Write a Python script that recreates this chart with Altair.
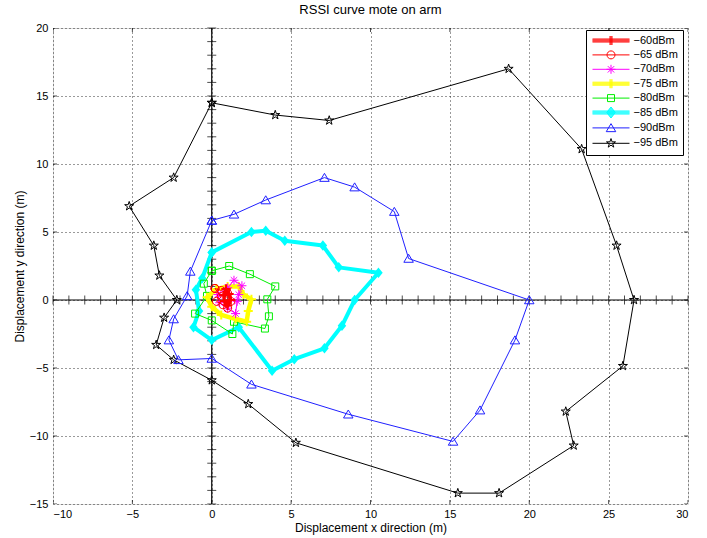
import altair as alt
import pandas as pd

# ---------------- data ----------------
labels = ["\u221260dBm", "\u221265 dBm", "\u221270dBm", "\u221275 dBm",
          "\u221280dBm", "\u221285 dBm", "\u221290dBm", "\u221295 dBm"]

x_60 = [0.9, 1.1, 1.2, 1.0, 0.8, 0.75, 0.9]
y_60 = [0.8, 0.45, 0.0, -0.4, -0.1, 0.35, 0.8]

x_65 = [0.2, 0.6, 0.3, 0.7, 1.0, 1.2, 1.0, 0.6, 0.2]
y_65 = [0.85, 0.25, -0.1, -0.35, -0.6, -0.1, 0.5, 0.7, 0.85]

x_70 = [0.4, 1.0, 1.4, 1.9, 1.7, 1.6, 1.5, 1.0, 0.5, 0.4]
y_70 = [0.4, 0.9, 1.45, 1.05, 0.4, -0.1, -1.0, -0.6, -0.2, 0.4]

x_75 = [0.3, 1.0, 1.7, 2.0, 2.5, 2.3, 2.2, 1.5, 0.6, 0.0, -0.3, 0.3]
y_75 = [0.8, 1.0, 1.0, 0.4, 0.05, -0.8, -1.6, -1.4, -1.1, -0.5, 0.2, 0.8]

x_80 = [0.0, 1.1, 2.4, 4.0, 3.5, 3.6, 3.35, 1.4, 1.3, 0.0, -1.05, -0.3, -0.5, 0.0]
y_80 = [2.15, 2.5, 1.9, 1.0, 0.05, -1.2, -2.1, -1.6, -2.5, -1.5, -1.0, 0.3, 1.2, 2.15]

x_85 = [0.0, 2.5, 3.4, 4.6, 7.0, 8.0, 10.5, 9.0, 8.2, 7.1, 5.2, 3.8, 1.7, 0.0, -1.15, -0.8, -1.0, -0.6, 0.0]
y_85 = [3.5, 5.0, 5.1, 4.35, 4.0, 2.4, 2.0, 0.0, -1.9, -3.55, -4.35, -5.2, -2.0, -2.95, -2.0, -0.8, 0.75, 1.6, 3.5]

x_90 = [0.0, 1.4, 3.4, 7.1, 9.0, 11.5, 12.4, 20.0, 19.1, 16.9, 15.2, 8.6, 2.5, 0.0, -2.1, -2.7, -2.4, -1.55, -1.35, 0.0]
y_90 = [5.85, 6.3, 7.35, 9.0, 8.3, 6.5, 3.05, 0.0, -2.95, -8.1, -10.4, -8.4, -6.2, -4.3, -4.4, -2.95, -1.4, 0.3, 2.1, 5.85]

x_95 = [0.0, 4.0, 7.4, 18.7, 23.3, 25.5, 26.6, 25.9, 22.3, 22.8, 18.1, 15.5, 5.3, 2.3, 0.0, -2.4, -3.5, -3.0, -2.2, -3.3, -3.65, -5.2, -2.4, 0.0]
y_95 = [14.5, 13.6, 13.2, 17.0, 11.1, 4.0, 0.0, -4.85, -8.2, -10.7, -14.2, -14.2, -10.5, -7.65, -5.9, -4.4, -3.3, -1.3, 0.0, 1.8, 4.0, 6.9, 9.0, 14.5]

series_x = [x_60, x_65, x_70, x_75, x_80, x_85, x_90, x_95]
series_y = [y_60, y_65, y_70, y_75, y_80, y_85, y_90, y_95]

x_ticks = [-10, -5, 0, 5, 10, 15, 20, 25, 30]
y_ticks = [-15, -10, -5, 0, 5, 10, 15, 20]
x_minor = list(range(-10, 31))
y_minor = list(range(-15, 21))
origin = [0]

# ---------------- styles ----------------
colors = ["#ff0000", "#ff0000", "#ff00ff", "#ffff00", "#00ee00", "#00ffff", "#2020ff", "#000000"]
line_widths = [3, 1, 1, 4.5, 1, 4, 1, 1]
marker_widths = [2, 1, 1, 2, 1, 1, 1, 1]
FONT = "Liberation Sans"

PLUS = "M-0.9,0L0.9,0M0,-0.9L0,0.9"
CIRC = "M0.8,0A0.8,0.8 0 1,1 -0.8,0A0.8,0.8 0 1,1 0.8,0Z"
AST = "M-0.9,0L0.9,0M0,-0.9L0,0.9M-0.64,-0.64L0.64,0.64M-0.64,0.64L0.64,-0.64"
SQR = "M-0.7,-0.7L0.7,-0.7L0.7,0.7L-0.7,0.7Z"
DIA = "M0,-1.05L0.85,0L0,1.05L-0.85,0Z"
TRI = "M0,-0.85L0.95,0.75L-0.95,0.75Z"
STAR = ("M0,-0.95L0.2134,-0.2937L0.9035,-0.2936L0.3452,0.1122L0.5584,0.7686"
        "L0,0.363L-0.5584,0.7686L-0.3452,0.1122L-0.9035,-0.2936L-0.2134,-0.2937Z")
markers = [PLUS, CIRC, AST, PLUS, SQR, DIA, TRI, STAR]

# legend symbols (1 unit = 5 px): a thin line + marker, thick parts built from parallel strokes
LINE = "M-3.7,0L3.7,0"
THICK = "".join(f"M-3.7,{v}L3.7,{v}" for v in ["-0.3", "-0.1", "0.1", "0.3"])
THICK_PLUS = "".join(f"M{v},-0.9L{v},0.9" for v in ["-0.2", "0", "0.2"])
DIA_FILL = "M0,-1.1L0.85,0L0,1.1L-0.85,0Z" + "".join(
    f"M{-0.85 * (1 - abs(v) / 1.1):.3f},{v}L{0.85 * (1 - abs(v) / 1.1):.3f},{v}"
    for v in [-0.9, -0.7, -0.5, -0.3, -0.1, 0.1, 0.3, 0.5, 0.7, 0.9])
legend_shapes = [THICK + THICK_PLUS, LINE + CIRC, LINE + AST, THICK + THICK_PLUS,
                 LINE + SQR, THICK + DIA_FILL, LINE + TRI, LINE + STAR]

# ---------------- chart ----------------
xscale = alt.Scale(domain=[-10, 30], nice=False, zero=False)
yscale = alt.Scale(domain=[-15, 20], nice=False, zero=False)

xaxis = alt.Axis(values=x_ticks, title="Displacement x direction (m)", grid=True,
                 gridColor="#000000", gridDash=[1, 3], gridWidth=0.8, gridOpacity=1,
                 domain=False, ticks=False, labelPadding=4, titlePadding=3,
                 labelFont=FONT, labelFontSize=11, labelColor="#000000",
                 titleFont=FONT, titleFontSize=12, titleFontWeight="normal", titleColor="#000000")
yaxis = alt.Axis(values=y_ticks, title="Displacement y direction (m)", grid=True,
                 gridColor="#000000", gridDash=[1, 3], gridWidth=0.8, gridOpacity=1,
                 domain=False, ticks=False, labelPadding=5, titlePadding=3,
                 labelFont=FONT, labelFontSize=11, labelColor="#000000",
                 titleFont=FONT, titleFontSize=12, titleFontWeight="normal", titleColor="#000000")


def X(field):
    return alt.X(field, scale=xscale, axis=xaxis)


def Y(field):
    return alt.Y(field, scale=yscale, axis=yaxis)


def XD(v):
    return alt.XDatum(v, scale=xscale, axis=xaxis)


def YD(v):
    return alt.YDatum(v, scale=yscale, axis=yaxis)


orig = pd.DataFrame({"v": origin})
hline = alt.Chart(orig).mark_rule(color="#000000", strokeWidth=1.2).encode(y=Y("v:Q"))
vline = alt.Chart(orig).mark_rule(color="#000000", strokeWidth=1.2).encode(x=X("v:Q"))

xt = alt.Chart(pd.DataFrame({"t": x_minor})).mark_tick(
    orient="vertical", size=9, thickness=1, color="#000000").encode(x=X("t:Q"), y=YD(0))
yt = alt.Chart(pd.DataFrame({"t": y_minor})).mark_tick(
    orient="horizontal", size=9, thickness=1, color="#000000").encode(y=Y("t:Q"), x=XD(0))

box_layers = []
for yv in [y_ticks[0], y_ticks[-1]]:
    box_layers.append(alt.Chart(pd.DataFrame({"t": x_ticks})).mark_tick(
        orient="vertical", size=8, thickness=1, color="#000000", clip=True).encode(
        x=X("t:Q"), y=YD(yv)))
for xv in [x_ticks[0], x_ticks[-1]]:
    box_layers.append(alt.Chart(pd.DataFrame({"t": y_ticks})).mark_tick(
        orient="horizontal", size=8, thickness=1, color="#000000", clip=True).encode(
        y=Y("t:Q"), x=XD(xv)))

series_layers = []
for k in reversed(range(len(labels))):
    sub = pd.DataFrame({"i": list(range(len(series_x[k]))), "x": series_x[k], "y": series_y[k]})
    base = alt.Chart(sub)
    ln = base.mark_line(color=colors[k], strokeWidth=line_widths[k], strokeJoin="round").encode(
        x=X("x:Q"), y=Y("y:Q"), order=alt.Order("i:Q"))
    pt = base.mark_point(shape=markers[k], size=100, filled=(markers[k] == DIA), color=colors[k],
                         strokeWidth=marker_widths[k], opacity=1).encode(x=X("x:Q"), y=Y("y:Q"))
    series_layers += [ln, pt]

legend = alt.Legend(title=None, orient="none", legendX=533, legendY=2, padding=5,
                    strokeColor="#000000", fillColor="#ffffff", symbolSize=100,
                    symbolStrokeWidth=1, symbolOffset=14.5, labelOffset=17, rowPadding=1.4,
                    labelFont=FONT, labelFontSize=11, labelColor="#000000", labelLimit=300)
leg_df = pd.DataFrame({"series": labels})
legend_layer = alt.Chart(leg_df).mark_point(opacity=0, filled=False, size=100, strokeWidth=1).encode(
    x=XD(0), y=YD(0),
    color=alt.Color("series:N", scale=alt.Scale(domain=labels, range=colors), legend=legend),
    shape=alt.Shape("series:N", scale=alt.Scale(domain=labels, range=legend_shapes), legend=legend),
)

chart = alt.layer(hline, vline, xt, yt, *box_layers, *series_layers, legend_layer).properties(
    width=635, height=476,
    title=alt.TitleParams("RSSI curve mote on arm", font=FONT, fontSize=13, fontWeight="normal",
                          color="#000000", offset=5, anchor="middle"),
    autosize=alt.AutoSizeParams(type="none"),
    padding={"left": 53, "top": 28, "right": 19, "bottom": 34},
).configure_view(stroke="#000000", strokeWidth=1).configure(background="#ffffff")

chart.save("out.html", embed_options={"renderer": "svg", "actions": False})
